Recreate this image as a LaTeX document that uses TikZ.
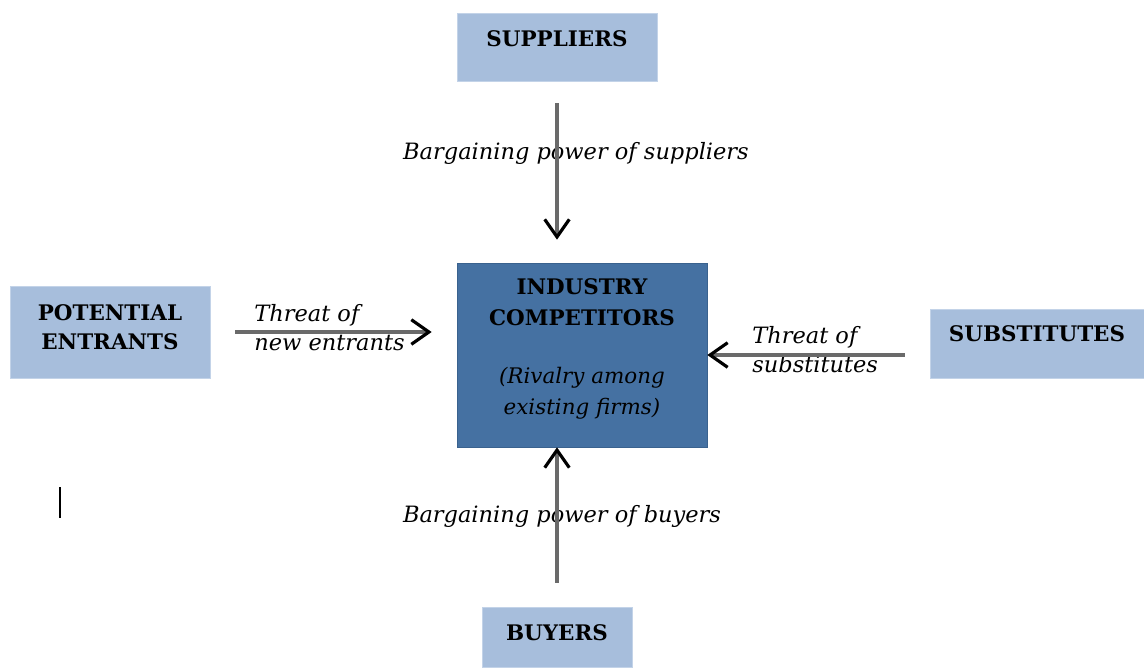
\documentclass[tikz,border=0pt]{standalone}
\usepackage{fontspec}
\setmainfont{DejaVu Serif}
\usepackage{xcolor}
\usetikzlibrary{arrows.meta,positioning}
\definecolor{lightbox}{HTML}{A7BEDC}
\definecolor{lightedge}{HTML}{C3D3E8}
\definecolor{darkbox}{HTML}{4571A2}
\definecolor{darkedge}{HTML}{3A628E}
\definecolor{linegray}{HTML}{6A6A6A}

\begin{document}
\begin{tikzpicture}[
        x=0.02cm, y=-0.02cm,
        force/.style={rectangle, draw=lightedge, fill=lightbox, inner sep=0pt, align=center, font=\bfseries\fontsize{12.2}{16.5}\selectfont},
        rivalry/.style={rectangle, draw=darkedge, fill=darkbox, inner sep=0pt, align=center, font=\fontsize{12.2}{17.5}\selectfont, minimum width=5cm, minimum height=3.68cm},
        forcetext/.style={font=\itshape\fontsize{12.8}{16.5}\selectfont, inner sep=0pt},
        arrow/.style={line width=2pt, draw=linegray, -{Straight Barb[black, length=10pt, width=14pt, line width=1.8pt]}}
    ]
        \useasboundingbox (0,0) rectangle (1144,667);

        % The five forces
        \node[force, minimum width=4cm, minimum height=1.36cm, text depth=0.32cm] (sup) at (557,47) {SUPPLIERS};
        \node[force, minimum width=4cm, minimum height=1.84cm, text depth=0.18cm] (ent) at (110,332) {POTENTIAL\\ENTRANTS};
        \node[force, minimum width=4.28cm, minimum height=1.38cm, text depth=0.4cm] (sub) at (1037,343.5) {SUBSTITUTES};
        \node[force, minimum width=3cm, minimum height=1.2cm, text depth=0.16cm] (buy) at (557,637) {BUYERS};
        \node[rivalry, text depth=0.35cm] (ind) at (582,355) {\textbf{INDUSTRY}\\\textbf{COMPETITORS}\\[0.55cm]\textit{(Rivalry among}\\\textit{existing firms)}};

        % Labels of the forces
        \node[forcetext] (supl) at (576,153) {Bargaining power of suppliers};
        \node[forcetext, anchor=west, align=left] (entl) at (254,328) {Threat of\\new entrants};
        \node[forcetext, anchor=west, align=left] (subl) at (752,350) {Threat of\\substitutes};
        \node[forcetext] (buyl) at (562,516) {Bargaining power of buyers};

        % Arrows into the industry
        \draw[arrow] ([yshift=-22*0.02cm]sup.south) -- ([yshift=23*0.02cm]sup.south |- ind.north);
        \draw[arrow] ([xshift=25*0.02cm]ent.east) -- ([xshift=-25*0.02cm]ent.east -| ind.west);
        \draw[arrow] ([xshift=-25*0.02cm]ind.east -| sub.west) -- (ind.east);
        \draw[arrow] ([yshift=24*0.02cm]buy.north) -- (buy.north |- ind.south);

        % cursor
        \draw[line width=1pt] (60,487) -- (60,518);
    \end{tikzpicture}
\end{document}
